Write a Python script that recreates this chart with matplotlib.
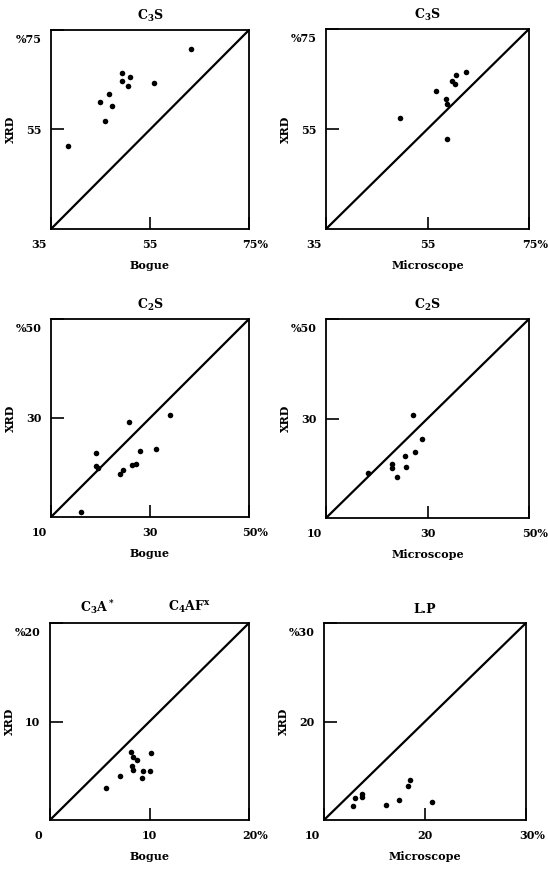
import matplotlib
matplotlib.use("Agg")
import matplotlib.pyplot as plt
from matplotlib.transforms import ScaledTranslation

plt.rcParams['font.family'] = ['DejaVu Serif']
plt.rcParams['font.weight'] = 'bold'
plt.rcParams['mathtext.fontset'] = 'custom'
plt.rcParams['mathtext.rm'] = 'DejaVu Serif:bold'
plt.rcParams['mathtext.it'] = 'DejaVu Serif:bold'
plt.rcParams['mathtext.bf'] = 'DejaVu Serif:bold'

# ---------- data ----------
c3s_bogue_x = [63.3, 49.4, 49.3, 51.0, 50.5, 55.8, 46.7, 44.8, 47.3, 46.0, 38.5]
c3s_bogue_y = [71.2, 66.3, 64.8, 65.5, 63.8, 64.4, 62.2, 60.5, 59.8, 56.7, 51.7]

c3s_micro_x = [62.6, 60.7, 59.9, 60.5, 56.6, 58.7, 58.8, 49.5, 58.8]
c3s_micro_y = [66.4, 65.9, 64.7, 64.0, 62.7, 61.0, 60.1, 57.3, 53.1]

c2s_bogue_x = [34.1, 25.8, 19.1, 19.1, 19.4, 28.0, 31.3, 26.3, 27.1, 24.5, 24.0, 16.1]
c2s_bogue_y = [30.7, 29.2, 23.0, 20.3, 19.9, 23.4, 23.8, 20.5, 20.7, 19.4, 18.6, 11.1]

c2s_micro_x = [27.1, 28.9, 27.6, 25.6, 23.1, 23.1, 25.7, 24.0, 18.3]
c2s_micro_y = [30.7, 25.8, 23.2, 22.4, 20.8, 20.0, 20.2, 18.2, 19.0]

c3a_bogue_x = [5.6, 7.0, 8.1, 8.3, 8.7, 10.2, 8.2, 8.3, 9.3, 9.2, 10.0]
c3a_bogue_y = [3.2, 4.5, 6.9, 6.4, 6.1, 6.8, 5.5, 5.05, 5.0, 4.3, 5.0]

lp_micro_x = [18.5, 18.3, 13.8, 13.8, 13.1, 17.4, 20.7, 16.1, 12.9]
lp_micro_y = [14.1, 13.5, 12.6, 12.3, 12.2, 12.0, 11.8, 11.5, 11.4]

panels = [
    # (x, y, lo, mid, hi, title, xlabel, rect px: left, top, width, height)
    (c3s_bogue_x, c3s_bogue_y, 35, 55, 75, 'C$_3$S', 'Bogue', (51, 30, 198, 199)),
    (c3s_micro_x, c3s_micro_y, 35, 55, 75, 'C$_3$S', 'Microscope', (326, 29, 203, 200)),
    (c2s_bogue_x, c2s_bogue_y, 10, 30, 50, 'C$_2$S', 'Bogue', (51, 319, 198, 198)),
    (c2s_micro_x, c2s_micro_y, 10, 30, 50, 'C$_2$S', 'Microscope', (326, 319, 203, 199)),
    (c3a_bogue_x, c3a_bogue_y, 0, 10, 20, None, 'Bogue', (50, 623, 199, 197)),
    (lp_micro_x, lp_micro_y, 10, 20, 30, 'L.P', 'Microscope', (324, 623, 202, 197)),
]

W, H = 548, 872
fig = plt.figure(figsize=(W / 100, H / 100), dpi=100)

for (xs, ys, lo, mid, hi, title, xlabel, (l, t, w, h)) in panels:
    ax = fig.add_axes([l / W, 1 - (t + h) / H, w / W, h / H])
    ax.set_xlim(lo, hi)
    ax.set_ylim(lo, hi)
    ax.plot([lo, hi], [lo, hi], color='black', lw=1.6, solid_capstyle='round')
    ax.scatter(xs, ys, s=16, color='black', zorder=3, linewidths=0)
    for sp in ax.spines.values():
        sp.set_linewidth(1.3)
    ax.set_xticks([lo, mid, hi])
    ax.set_xticklabels([str(lo), str(mid), f'{hi}%'])
    ax.set_yticks([mid, hi])
    ax.set_yticklabels([str(mid), f'%{hi}'])
    ax.tick_params(direction='in', length=9, width=1.2, labelsize=8)
    ax.tick_params(axis='x', pad=7)
    ax.tick_params(axis='y', pad=7)
    xt = ax.get_xticklabels()
    xt[0].set_transform(xt[0].get_transform() + ScaledTranslation(-0.12, 0, fig.dpi_scale_trans))
    xt[2].set_transform(xt[2].get_transform() + ScaledTranslation(0.06, 0, fig.dpi_scale_trans))
    yt = ax.get_yticklabels()
    yt[1].set_transform(yt[1].get_transform() + ScaledTranslation(0, -0.08, fig.dpi_scale_trans))
    ax.set_xlabel(xlabel, fontsize=8, fontweight='bold')
    ax.xaxis.set_label_coords(0.5, -31 / h)
    ax.set_ylabel('XRD', fontsize=8, fontweight='bold')
    ax.yaxis.set_label_coords(-35 / w, 0.5)
    if title:
        ax.set_title(title, fontsize=9, fontweight='bold', pad=7)
    else:
        ax.text(0.236, 1 + 16 / h, 'C$_3$A$^*$', transform=ax.transAxes,
                ha='center', va='center', fontsize=9, fontweight='bold')
        ax.text(0.70, 1 + 16 / h, 'C$_4$AF$^x$', transform=ax.transAxes,
                ha='center', va='center', fontsize=9, fontweight='bold')

fig.savefig('out.png', dpi=100)
